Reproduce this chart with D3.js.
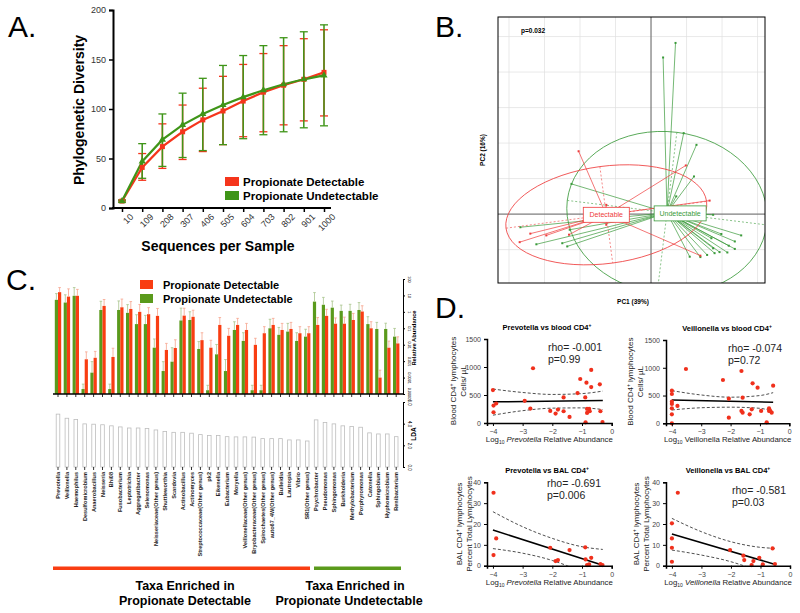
<!DOCTYPE html>
<html><head><meta charset="utf-8">
<script src="https://cdn.jsdelivr.net/npm/d3@7"></script>
<style>body{margin:0;background:#fff}svg{display:block}text{font-family:"Liberation Sans",Arial,sans-serif}</style>
</head><body><svg id="c" width="800" height="613"></svg>
<script>
// ---------- Panel A data ----------
const seqDepth = ["10","109","208","307","406","505","604","703","802","901","1000"];
const pdDet   = [7,41,62,77,89,98,108,117,124,130,137];
const pdDetLo = [6,28,40,49,57,64,72,77,84,88,93];
const pdDetHi = [8,55,85,104,121,133,145,156,164,171,180];
const pdUnd   = [7,47,69,84,95,104,112,119,125,130,134];
const pdUndLo = [6,30,42,51,58,64,70,74,77,81,83];
const pdUndHi = [8,65,95,116,131,144,154,164,172,178,185];
const yTicksA = [0,50,100,150,200];

// ---------- Panel B data (PCoA) ----------
const detPts = [[-0.204,0.177],[0.098,0.137],[0.165,0.038],[-0.126,0.026],[-0.126,-0.030],[-0.370,-0.079],[-0.340,-0.055],[-0.295,-0.060],[-0.231,-0.058],[0.139,-0.117],[-0.190,-0.020]];
const undPts = [[0.069,0.482],[0.034,0.441],[0.092,0.228],[0.128,0.195],[0.121,0.106],[0.071,0.050],[-0.224,0.085],[0.175,-0.002],[-0.368,-0.037],[-0.323,-0.085],[-0.250,-0.082],[-0.236,-0.091],[-0.229,-0.044],[0.198,-0.056],[0.236,-0.077],[0.254,-0.060],[0.236,-0.098],[0.219,-0.089],[0.215,-0.108],[0.193,-0.107],[0.175,-0.096],[0.179,-0.110],[0.158,-0.115],[0.139,-0.121],[0.109,-0.120],[0.170,-0.068]];
const detCentroid = [-0.126,-0.002];
const undCentroid = [0.045,0.004];
const detEllipse = {a:0.285,b:0.137,angle:-7.6};
const undEllipse = {a:0.283,b:0.228,angle:7};
const undLabelPos = [0.082,0.002];

// ---------- Panel C data ----------
const taxa = ["Prevotella","Veillonella","Haemophilus","Desulfomicrobium","Anaerobacillus","Neisseria","Bhi08","Fusobacterium","Leptotrichia","Aggregatibacter","Selenomonas","Neisseriaceae(Other genus)","Shuttleworthia","Scardovia","Actinobacillus","Actinomyces","Streptococcaceae(Other genus)","pk2","Eikenella","Eubacterium","Moryella","Veillonellaceae(Other genus)","Bryobacteraceae(Other genus)","Spirochaetes(Other genus)","auto67_4W(Other genus)","Bulleidia","Lautropia","Vibrio","SR1(Other genus)","Psychrobacter","Pseudomonas","Sphingomonas","Burkholderia","Methylobacterium","Porphyromonas","Catonella","Sphingobium","Hyphomicrobium","Renibacterium"];
const relUnd = [5.4,3.7,9.5,0.00002,0.0002,1.3,0.00002,1.3,0.87,0.18,0.18,0.0066,0.00025,0.00093,0.3,0.32,0.0055,0.000017,0.0026,0.00025,0.079,0.017,0.000017,0.000017,0.1,0.04,0.063,0.017,0.031,4.2,2.7,1.8,1.15,1.15,1.3,0.18,0.091,0.091,0.031];
const relDet = [15.8,8.5,9.5,0.0013,0.0016,2.3,0.0018,1.9,1.5,1.0,0.72,0.57,0.0048,0.0063,0.59,0.5,0.019,0.0066,0.16,0.035,0.16,0.079,0.0098,0.05,0.16,0.079,0.091,0.05,0.05,0.16,0.57,0.19,0.19,0.32,1.05,0.1,0.0001,0.0066,0.012];
const errUndDec = [0.38,0.47,0.5,0.3,0.67,0.53,0.3,0.55,0.5,0.57,0.53,0.53,0.57,0.85,0.75,0.5,0.45,0.3,0.6,0.7,0.5,0.5,0.3,0.3,0.55,0.45,0.5,0.5,0.45,0.55,0.45,0.4,0.35,0.4,0.45,0.45,0.4,0.35,0.5];
const errDetDec = [0.28,0.47,0.39,0.45,0.39,0.39,0.53,0.5,0.45,0.45,0.4,0.45,0.4,0.5,0.45,0.4,0.45,0.45,0.45,0.45,0.4,0.4,0.4,0.4,0.4,0.4,0.4,0.4,0.4,0.45,0.4,0.35,0.4,0.4,0.35,0.4,0.45,0.4,0.4];
const lda = [4.88,4.5,4.38,3.98,3.95,3.9,3.8,3.7,3.6,3.6,3.55,3.42,3.27,3.2,3.2,3.12,2.99,2.9,2.9,2.8,2.78,2.78,2.76,2.62,2.62,2.62,2.5,2.5,2.4,4.35,4.1,3.98,3.8,3.73,3.67,3.15,3.05,3.05,2.8];
const relTicks = [100,10,1,0.1,0.01,0.001,0.0001,0.00001];
const relTickLabels = ["100","10","1","0.1","0.01","0.001","0.0001","0.00001"];
const ldaTicks = [0,2,4,6];

// ---------- Panel D data ----------
const prevBloodX = [-4,-3.98,-3.89,-3.98,-2.93,-2.65,-2.74,-2.07,-1.89,-1.81,-1.62,-1.62,-1.42,-1.15,-1.06,-0.89,-0.85,-0.83,-0.83,-0.76,-0.74,-0.69,-0.69,-0.40,-0.38,-0.31,-0.88];
const prevBloodY = [588,312,348,192,396,978,258,216,168,240,456,210,108,534,786,456,720,252,180,252,210,948,642,690,210,18,12];
const veilBloodX = [-4,-4,-4,-4,-4,-4,-4,-3.81,-3.52,-2.26,-2.06,-2.06,-1.63,-1.59,-1.63,-1.59,-1.25,-1.28,-1.35,-1.08,-0.96,-0.69,-0.69,-0.6,-0.55,-0.77,-0.65];
const veilBloodY = [588,528,390,348,270,162,0,312,978,780,444,102,942,462,222,192,720,252,162,642,222,222,270,192,678,18,222];
const prevBalX = [-3.98,-3.89,-3.98,-2.07,-1.89,-1.81,-1.42,-0.89,-0.88,-0.69,-0.83,-0.76,-0.38,-0.31];
const prevBalY = [35,13.1,5.1,8.6,2.2,2.7,7.5,8.8,3.0,3.8,0.3,0.6,0.8,0.3];
const veilBalX = [-3.8,-4,-4,-4,-4,-2.03,-1.58,-1.55,-1.24,-1.3,-1.04,-0.92,-0.59,-0.51];
const veilBalY = [35,20.3,13.1,8.6,1.9,7.5,4.8,2.7,2.2,0.3,3.8,0.6,8.3,0.8];
const ciXPB = [-4,-3,-2,-1,-0.3], ciUpPB = [606,545,510,525,570], ciLoPB = [140,220,265,270,240], fitPB = [[-4,378],[-0.3,400]];
const ciXVB = [-4,-3,-2,-1,-0.55], ciUpVB = [588,510,470,500,552], ciLoVB = [240,280,290,270,210], fitVB = [[-4,420],[-0.55,378]];
const ciXPL = [-4,-3,-2,-1,-0.3], ciUpPL = [25.9,18.7,13.1,9.1,7.8], ciLoPL = [8.2,6,2.5,-3,-8], fitPL = [[-4,17.1],[-0.3,0.2]];
const ciXVL = [-4,-3,-2,-1,-0.5], ciUpVL = [22.7,16.3,11.5,8.8,8.3], ciLoVL = [7.5,5.1,1.9,-3,-6], fitVL = [[-4,15.2],[-0.5,0.6]];
const xTicksD = [-4,-3,-2,-1,0];

// ================= drawing =================
const svg = d3.select("#c");
const RED="#f5351c", GREEN="#3f9518";

function panelLetter(t,x,y){svg.append("text").attr("x",x).attr("y",y).attr("font-size",30).attr("font-family","Lato, 'Open Sans', sans-serif").attr("font-weight",300).text(t);}
panelLetter("A.",8,37); panelLetter("B.",435,37); panelLetter("C.",6,290); panelLetter("D.",435,318);

// ---- Panel A ----
(function(){
  const g = svg.append("g");
  const x = d3.scalePoint().domain(seqDepth).range([122,324]);
  const y = d3.scaleLinear().domain([0,200]).range([208,10]);
  const ya = g.append("g").attr("transform","translate(113,0)").call(d3.axisLeft(y).tickValues(yTicksA).tickSize(4));
  ya.select(".domain").attr("stroke-width",2);
  ya.selectAll(".tick line").attr("stroke-width",1.5);
  ya.selectAll("text").attr("font-size",9).attr("fill","#333");
  const xa = g.append("g").attr("transform","translate(0,208)").call(d3.axisBottom(x).tickSize(4));
  xa.select(".domain").remove();
  xa.selectAll(".tick line").attr("stroke-width",1.5);
  xa.selectAll("text").attr("font-size",9).attr("fill","#333").attr("text-anchor","end").attr("transform","translate(4,2) rotate(-45)").attr("dy","0.5em").attr("y",6);
  g.append("line").attr("x1",112).attr("x2",331).attr("y1",208).attr("y2",208).attr("stroke","#000").attr("stroke-width",2);
  function errs(lo,hi,col){
    seqDepth.forEach((s,i)=>{
      const xx=x(s);
      g.append("line").attr("x1",xx).attr("x2",xx).attr("y1",y(lo[i])).attr("y2",y(hi[i])).attr("stroke",col).attr("stroke-width",1.5);
      [lo[i],hi[i]].forEach(v=>g.append("line").attr("x1",xx-4).attr("x2",xx+4).attr("y1",y(v)).attr("y2",y(v)).attr("stroke",col).attr("stroke-width",1.3));
    });
  }
  errs(pdDetLo,pdDetHi,RED);
  errs(pdUndLo,pdUndHi,GREEN);
  const line = d3.line().x((d,i)=>x(seqDepth[i])).y(d=>y(d));
  g.append("path").attr("d",line(pdDet)).attr("fill","none").attr("stroke",RED).attr("stroke-width",2.2);
  g.append("path").attr("d",line(pdUnd)).attr("fill","none").attr("stroke",GREEN).attr("stroke-width",2.2);
  pdDet.forEach((v,i)=>g.append("rect").attr("x",x(seqDepth[i])-2.5).attr("y",y(v)-2.5).attr("width",5).attr("height",5).attr("fill",RED));
  pdUnd.forEach((v,i)=>g.append("path").attr("d",d3.symbol(d3.symbolTriangle,22)()).attr("transform",`translate(${x(seqDepth[i])},${y(v)})`).attr("fill",GREEN));
  g.append("text").attr("transform","translate(84,110) rotate(-90)").attr("text-anchor","middle").attr("font-size",14).attr("font-weight","bold").text("Phylogenetic Diversity");
  g.append("text").attr("x",218).attr("y",251).attr("text-anchor","middle").attr("font-size",14).attr("font-weight","bold").text("Sequences per Sample");
  [["Propionate Detectable",RED,177],["Propionate Undetectable",GREEN,191]].forEach(([t,c,yy])=>{
    g.append("rect").attr("x",225).attr("y",yy).attr("width",14).attr("height",9).attr("fill",c);
    g.append("text").attr("x",243).attr("y",yy+8.5).attr("font-size",11.5).attr("font-weight","bold").text(t);
  });
})();

// ---- Panel B ----
(function(){
  const g = svg.append("g");
  const x = d3.scaleLinear().domain([-0.431,0.321]).range([498,765]);
  const y = d3.scaleLinear().domain([-0.194,0.555]).range([283,17]);
  const k = x(1)-x(0);
  svg.append("clipPath").attr("id","clipB").append("rect").attr("x",498).attr("y",17).attr("width",267).attr("height",266);
  const p = g.append("g").attr("clip-path","url(#clipB)");
  d3.range(-0.4,0.35,0.1).forEach(v=>p.append("line").attr("x1",x(v)).attr("x2",x(v)).attr("y1",17).attr("y2",283).attr("stroke","#e0e0e0").attr("stroke-width",0.7));
  d3.range(-0.1,0.55,0.1).forEach(v=>p.append("line").attr("y1",y(v)).attr("y2",y(v)).attr("x1",498).attr("x2",765).attr("stroke","#e0e0e0").attr("stroke-width",0.7));
  p.append("line").attr("x1",x(0)).attr("x2",x(0)).attr("y1",17).attr("y2",283).attr("stroke","#444").attr("stroke-width",0.8);
  p.append("line").attr("y1",y(0)).attr("y2",y(0)).attr("x1",498).attr("x2",765).attr("stroke","#444").attr("stroke-width",0.8);
  const BR="#ee3b3b", BG="#3a9a3a";
  function grp(pts,cen,el,col){
    const cx=x(cen[0]), cy=y(cen[1]);
    p.append("ellipse").attr("cx",cx).attr("cy",cy).attr("rx",el.a*k).attr("ry",el.b*k).attr("transform",`rotate(${el.angle} ${cx} ${cy})`).attr("fill","none").attr("stroke",col).attr("stroke-width",0.8);
    const r=el.angle*Math.PI/180;
    p.append("line").attr("x1",cx-el.a*k*Math.cos(r)).attr("y1",cy-el.a*k*Math.sin(r)).attr("x2",cx+el.a*k*Math.cos(r)).attr("y2",cy+el.a*k*Math.sin(r)).attr("stroke",col).attr("stroke-width",0.6).attr("stroke-dasharray","2,2");
    p.append("line").attr("x1",cx+el.b*k*Math.sin(r)).attr("y1",cy-el.b*k*Math.cos(r)).attr("x2",cx-el.b*k*Math.sin(r)).attr("y2",cy+el.b*k*Math.cos(r)).attr("stroke",col).attr("stroke-width",0.6).attr("stroke-dasharray","2,2");
    pts.forEach(d=>{
      p.append("line").attr("x1",cx).attr("y1",cy).attr("x2",x(d[0])).attr("y2",y(d[1])).attr("stroke",col).attr("stroke-width",0.7);
    });
    pts.forEach(d=>p.append("rect").attr("x",x(d[0])-1).attr("y",y(d[1])-1).attr("width",2).attr("height",2).attr("fill",col));
  }
  grp(undPts,undCentroid,undEllipse,BG);
  grp(detPts,detCentroid,detEllipse,BR);
  function lab(t,pos,col,w){
    const cx=x(pos[0]), cy=y(pos[1]);
    p.append("rect").attr("x",cx-w/2).attr("y",cy-7.5).attr("width",w).attr("height",15).attr("fill","#fff").attr("stroke",col).attr("stroke-width",0.8);
    p.append("text").attr("x",cx).attr("y",cy+2.5).attr("text-anchor","middle").attr("font-size",7).attr("fill",col).text(t);
  }
  lab("Detectable",detCentroid,BR,46);
  lab("Undetectable",undLabelPos,BG,52);
  g.append("rect").attr("x",498).attr("y",17).attr("width",267).attr("height",266).attr("fill","none").attr("stroke","#000").attr("stroke-width",1);
  g.append("text").attr("x",521).attr("y",33).attr("font-size",6.5).attr("font-weight","bold").text("p=0.032");
  g.append("text").attr("transform","translate(485,150) rotate(-90)").attr("text-anchor","middle").attr("font-size",6.5).attr("font-weight","bold").text("PC2 (16%)");
  g.append("text").attr("x",633).attr("y",304).attr("text-anchor","middle").attr("font-size",6.5).attr("font-weight","bold").text("PC1 (39%)");
})();

// ---- Panel C ----
(function(){
  const g = svg.append("g");
  const CR="#f93d12", CG="#5a9a1c";
  const x = d3.scalePoint().domain(taxa).range([58,396.2]);
  const y = d3.scaleLog().domain([1e-5,100]).range([394,279]);
  const bw=3.2;
  taxa.forEach((t,i)=>{
    const cx=x(t);
    [[relUnd[i],errUndDec[i],CG,cx-bw,"#a8c48c"],[relDet[i],errDetDec[i],CR,cx,"#f6a58e"]].forEach(([v,e,c,xx,ec])=>{
      const top=y(v);
      g.append("rect").attr("x",xx).attr("y",top).attr("width",bw).attr("height",394-top).attr("fill",c);
      const hi=y(v*Math.pow(10,e));
      g.append("line").attr("x1",xx+bw/2).attr("x2",xx+bw/2).attr("y1",top).attr("y2",hi).attr("stroke",ec).attr("stroke-width",0.8);
      g.append("line").attr("x1",xx+bw/2-1.3).attr("x2",xx+bw/2+1.3).attr("y1",hi).attr("y2",hi).attr("stroke",ec).attr("stroke-width",0.8);
    });
    g.append("line").attr("x1",cx).attr("x2",cx).attr("y1",394).attr("y2",397).attr("stroke","#000").attr("stroke-width",0.8);
  });
  g.append("line").attr("x1",53).attr("x2",403).attr("y1",394).attr("y2",394).attr("stroke","#000").attr("stroke-width",1.5);
  const ra = g.append("g").attr("transform","translate(403,0)").call(d3.axisRight(y).tickValues(relTicks).tickSize(2).tickFormat((d,i)=>relTickLabels[i]));
  ra.select(".domain").attr("stroke-width",1);
  ra.selectAll("text").attr("font-size",3.8).attr("x",0).attr("dy",0).attr("text-anchor","middle").attr("transform","translate(5,0) rotate(90)");
  g.append("text").attr("transform","translate(416,338) rotate(-90)").attr("text-anchor","middle").attr("font-size",5.8).attr("font-weight","bold").text("Relative Abundance");
  // LDA
  const yl = d3.scaleLinear().domain([0,6]).range([467,402]);
  taxa.forEach((t,i)=>{
    const cx=x(t);
    g.append("rect").attr("x",cx-1.8).attr("y",yl(lda[i])).attr("width",3.6).attr("height",467-yl(lda[i])).attr("fill","none").attr("stroke","#bdbdbd").attr("stroke-width",0.8);
    g.append("line").attr("x1",cx).attr("x2",cx).attr("y1",467).attr("y2",470).attr("stroke","#000").attr("stroke-width",0.8);
    g.append("text").attr("transform",`translate(${cx+2},472) rotate(-90)`).attr("text-anchor","end").attr("font-size",5.6).attr("font-weight","bold").attr("fill","#222").text(t);
  });
  const la = g.append("g").attr("transform","translate(403,0)").call(d3.axisRight(yl).tickValues(ldaTicks).tickSize(2));
  la.select(".domain").attr("stroke-width",1);
  la.selectAll("text").attr("font-size",4.5).attr("x",0).attr("dy",0).attr("text-anchor","middle").attr("transform","translate(5,0) rotate(90)");
  g.append("text").attr("transform","translate(416,434) rotate(-90)").attr("text-anchor","middle").attr("font-size",6.5).attr("font-weight","bold").text("LDA");
  // legend
  [["Propionate Detectable",CR,280],["Propionate Undetectable",CG,294]].forEach(([t,c,yy])=>{
    g.append("rect").attr("x",140).attr("y",yy).attr("width",13).attr("height",9).attr("fill",c);
    g.append("text").attr("x",163).attr("y",yy+8.5).attr("font-size",11).attr("font-weight","bold").text(t);
  });
  // group bars
  g.append("rect").attr("x",53).attr("y",566.5).attr("width",257).attr("height",3.5).attr("fill",CR);
  g.append("rect").attr("x",314).attr("y",566.5).attr("width",87).attr("height",3.5).attr("fill",CG);
  [["Taxa Enriched in",185,590],["Propionate Detectable",185,605],["Taxa Enriched in",355,590],["Propionate Undetectable",349,605]].forEach(([t,xx,yy])=>
    g.append("text").attr("x",xx).attr("y",yy).attr("text-anchor","middle").attr("font-size",12.5).attr("font-weight","bold").text(t));
})();

// ---- Panel D ----
function scatter(o){
  const g = svg.append("g");
  const x = d3.scaleLinear().domain([-4.2,0]).range([o.x0,o.x1]);
  const y = d3.scaleLinear().domain([0,o.ymax]).range([o.yb,o.yt]);
  const id="clip"+o.id;
  svg.append("clipPath").attr("id",id).append("rect").attr("x",o.x0).attr("y",o.yt-2).attr("width",o.x1-o.x0).attr("height",o.yb-o.yt+2);
  const pl = g.append("g").attr("clip-path",`url(#${id})`);
  const ln = d3.line().x((d,i)=>x(o.ciX[i])).y(d=>y(d)).curve(d3.curveMonotoneX);
  pl.append("path").attr("d",ln(o.ciUp)).attr("fill","none").attr("stroke","#222").attr("stroke-width",0.8).attr("stroke-dasharray","3,2");
  pl.append("path").attr("d",ln(o.ciLo)).attr("fill","none").attr("stroke","#222").attr("stroke-width",0.8).attr("stroke-dasharray","3,2");
  pl.append("line").attr("x1",x(o.fit[0][0])).attr("y1",y(o.fit[0][1])).attr("x2",x(o.fit[1][0])).attr("y2",y(o.fit[1][1])).attr("stroke","#000").attr("stroke-width",1.5);
  o.px.forEach((v,i)=>g.append("circle").attr("cx",x(v)).attr("cy",y(o.py[i])).attr("r",2.1).attr("fill","#f0301c"));
  const ya=g.append("g").attr("transform",`translate(${o.x0},0)`).call(d3.axisLeft(y).tickValues(o.yticks).tickSize(3).tickFormat(d3.format("d")));
  const xa=g.append("g").attr("transform",`translate(0,${o.yb})`).call(d3.axisBottom(x).tickValues(xTicksD).tickSize(3).tickFormat(d3.format("d")));
  [ya,xa].forEach(a=>{a.select(".domain").attr("stroke-width",1.5);a.selectAll(".tick line").attr("stroke-width",1);a.selectAll("text").attr("font-size",7).attr("fill","#444");});
  g.append("text").attr("x",o.tx).attr("y",o.yt-9).attr("text-anchor","middle").attr("font-size",7.5).attr("font-weight","bold")
    .call(t=>{t.append("tspan").text(o.title);t.append("tspan").attr("dy",-3).attr("font-size",5).text("+");});
  g.append("text").attr("x",o.rx).attr("y",o.ry).attr("font-size",10.5).attr("fill","#222").text(o.rho);
  g.append("text").attr("x",o.rx).attr("y",o.ry+12).attr("font-size",10.5).attr("fill","#222").text(o.p);
  const yt=g.append("text").attr("transform",`translate(${o.yl},${(o.yb+o.yt)/2}) rotate(-90)`).attr("text-anchor","middle").attr("font-size",8).attr("fill","#222");
  yt.append("tspan").attr("x",0).attr("dy",0).text(o.ylab1);
  yt.append("tspan").attr("dy",-3).attr("font-size",5).text("+");
  yt.append("tspan").attr("dy",3).text(" lymphocytes");
  yt.append("tspan").attr("x",0).attr("dy",10).text(o.ylab2);
  const xt=g.append("text").attr("x",(o.x0+o.x1)/2).attr("y",o.yb+19).attr("text-anchor","middle").attr("font-size",7.8).attr("fill","#222");
  xt.append("tspan").text("Log");
  xt.append("tspan").attr("dy",2).attr("font-size",5).text("10");
  xt.append("tspan").attr("dy",-2).attr("font-style",o.italic?"italic":"normal").text(" "+o.genus);
  xt.append("tspan").text(" Relative Abundance");
}
scatter({id:1,x0:487,x1:611.7,yb:423,yt:339,ymax:1500,yticks:[0,500,1000,1500],px:prevBloodX,py:prevBloodY,ciX:ciXPB,ciUp:ciUpPB,ciLo:ciLoPB,fit:fitPB,
  title:"Prevotella vs blood CD4",tx:547,rho:"rho= -0.001",p:"p=0.99",rx:548,ry:351,yl:456,ylab1:"Blood CD4",ylab2:"Cells/ µL",genus:"Prevotella",italic:true});
scatter({id:2,x0:666,x1:789.3,yb:423.3,yt:340,ymax:1500,yticks:[0,500,1000,1500],px:veilBloodX,py:veilBloodY,ciX:ciXVB,ciUp:ciUpVB,ciLo:ciLoVB,fit:fitVB,
  title:"Veillonella vs blood CD4",tx:727,rho:"rho= -0.074",p:"p=0.72",rx:728,ry:352,yl:633,ylab1:"Blood CD4",ylab2:"Cells/ µL",genus:"Veillonella",italic:false});
scatter({id:3,x0:487,x1:611.7,yb:565.7,yt:482.3,ymax:40,yticks:[0,10,20,30,40],px:prevBalX,py:prevBalY,ciX:ciXPL,ciUp:ciUpPL,ciLo:ciLoPL,fit:fitPL,
  title:"Prevotella vs BAL CD4",tx:547,rho:"rho= -0.691",p:"p=0.006",rx:547,ry:487,yl:462,ylab1:"BAL CD4",ylab2:"Percent Total Lymphocytes",genus:"Prevotella",italic:true});
scatter({id:4,x0:666,x1:790,yb:565.7,yt:482.3,ymax:40,yticks:[0,10,20,30,40],px:veilBalX,py:veilBalY,ciX:ciXVL,ciUp:ciUpVL,ciLo:ciLoVL,fit:fitVL,
  title:"Veillonella  vs BAL CD4",tx:728,rho:"rho= -0.581",p:"p=0.03",rx:732,ry:494,yl:639,ylab1:"BAL CD4",ylab2:"Percent Total Lymphocytes",genus:"Veillonella",italic:true});
</script></body></html>
